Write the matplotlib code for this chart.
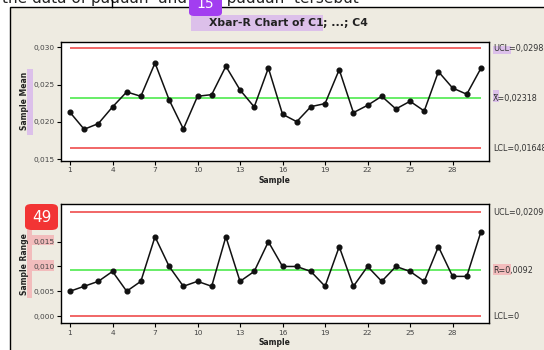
import matplotlib
matplotlib.use("Agg")
import matplotlib.pyplot as plt
from matplotlib.patches import Rectangle, FancyBboxPatch
from matplotlib.ticker import FuncFormatter
import matplotlib.transforms as mtransforms

# ---- data ----
samples = list(range(1, 31))
sample_means = [0.02129, 0.01902, 0.01978, 0.02201, 0.02402, 0.02344, 0.02790, 0.02295, 0.01906, 0.02344,
                0.02366, 0.02746, 0.02429, 0.02201, 0.02723, 0.02103, 0.02004, 0.02205, 0.02246, 0.02701,
                0.02125, 0.02223, 0.02344, 0.02174, 0.02277, 0.02147, 0.02674, 0.02455, 0.02371, 0.02719]
sample_ranges = [0.005, 0.006, 0.007, 0.009, 0.005, 0.007, 0.016, 0.010, 0.006, 0.007,
                 0.006, 0.016, 0.007, 0.009, 0.015, 0.010, 0.010, 0.009, 0.006, 0.014,
                 0.006, 0.010, 0.007, 0.010, 0.009, 0.007, 0.014, 0.008, 0.008, 0.017]
xbar_limits = {"UCL": 0.02988, "CL": 0.02318, "LCL": 0.01648}
r_limits = {"UCL": 0.02099, "CL": 0.0092, "LCL": 0.0}
x_ticks = [1, 4, 7, 10, 13, 16, 19, 22, 25, 28]

W, H = 544, 350
BEIGE = "#eeebe1"
RED = "#f05a5a"
GREEN = "#3ee83e"
PURPLE_HL = "#dcc0ea"
PINK_HL = "#f2bcbc"

fig = plt.figure(figsize=(W / 100, H / 100), dpi=100)
fig.patch.set_facecolor("white")


def fx(x):
    return x / W


def fy(y):
    return 1 - y / H


def box(x0, y0, x1, y1, color, z=-1):
    # rectangle given in pixel coords (top-left origin)
    fig.add_artist(Rectangle((fx(x0), fy(y1)), fx(x1) - fx(x0), fy(y0) - fy(y1),
                             transform=fig.transFigure, facecolor=color,
                             edgecolor="none", zorder=z))


# beige Minitab panel
fig.add_artist(Rectangle((fx(10), fy(H + 5)), fx(W + 10 - 10), fy(7) - fy(H + 5),
                         transform=fig.transFigure, facecolor=BEIGE,
                         edgecolor="black", lw=1.0, zorder=-2))
# cut-off text above the panel (only the bottoms of the glyphs show)
fig.text(fx(2), fy(3), "the data of paduan  and  the paduan  tersebut", fontsize=11,
         color="#222222", va="baseline", ha="left", zorder=1)
fig.add_artist(plt.Line2D([fx(112), fx(112)], [fy(0), fy(7)], transform=fig.transFigure,
                          color="black", lw=1.0))

# highlights
box(190.7, 15, 323.3, 31, PURPLE_HL)
box(26.7, 69.3, 33.3, 135, PURPLE_HL)
box(492.7, 45.7, 510.7, 54, PURPLE_HL)
box(492.7, 90, 499.3, 101.7, PURPLE_HL)
box(26.7, 230, 32.3, 297.7, PINK_HL)
box(32.3, 235, 54, 245, PINK_HL)
box(32.3, 260, 54, 271, PINK_HL)
box(492.7, 264.3, 510.7, 275, PINK_HL)

# title
fig.text(fx(323.3), fy(23.5), "Xbar-R Chart of C1", fontsize=7.8, fontweight="bold",
         ha="right", va="center", color="#222222", zorder=2)
fig.text(fx(323.3), fy(23.5), "; ...; C4", fontsize=7.8, fontweight="bold",
         ha="left", va="center", color="#222222", zorder=2)

comma_fmt = FuncFormatter(lambda v, p: f"{v:.3f}".replace(".", ","))


def control_panel(rect, values, limits, ylim, yticks, ylabel, labels):
    ax = fig.add_axes(rect)
    ax.set_facecolor("white")
    ax.hlines([limits["UCL"], limits["LCL"]], samples[0], samples[-1], color=RED, lw=1.3)
    ax.hlines(limits["CL"], samples[0], samples[-1], color=GREEN, lw=1.1)
    ax.plot(samples, values, "-o", color="#111111", lw=1.1, markersize=3.4, zorder=3)
    ax.set_xlim(0.33, 30.57)
    ax.set_ylim(*ylim)
    ax.set_xticks(x_ticks)
    ax.set_yticks(yticks)
    ax.yaxis.set_major_formatter(comma_fmt)
    ax.tick_params(labelsize=5.3, labelcolor="#444444", length=3, width=0.8,
                   direction="out", pad=1.5)
    for s in ax.spines.values():
        s.set_linewidth(1.0)
    ax.set_xlabel("Sample", fontsize=5.5, fontweight="bold", labelpad=2, color="#222222")
    ax.set_ylabel(ylabel, fontsize=5.5, fontweight="bold", labelpad=3, color="#222222")
    trans = mtransforms.blended_transform_factory(ax.transAxes, ax.transData)
    for key, txt in labels:
        ax.text(1.009, limits[key], txt, transform=trans, fontsize=5.8, color="#333333",
                ha="left", va="center", clip_on=False)
    return ax


top = control_panel([fx(60.5), fy(161), fx(489) - fx(60.5), fy(41.7) - fy(161)],
                    sample_means, xbar_limits, (0.01477, 0.03075),
                    [0.015, 0.020, 0.025, 0.030], "Sample Mean",
                    [("UCL", "UCL=0,02988"), ("CL", "X\u0304=0,02318"), ("LCL", "LCL=0,01648")])

bot = control_panel([fx(60.5), fy(323.3), fx(489) - fx(60.5), fy(204.3) - fy(323.3)],
                    sample_ranges, r_limits, (-0.00147, 0.02255),
                    [0.000, 0.005, 0.010, 0.015], "Sample Range",
                    [("UCL", "UCL=0,02099"), ("CL", "R\u0304=0,0092"), ("LCL", "LCL=0")])

# annotation badges
fig.add_artist(FancyBboxPatch((fx(189), fy(16)), fx(222) - fx(189), fy(-6) - fy(16),
                              boxstyle="round,pad=0,rounding_size=0.01",
                              transform=fig.transFigure, facecolor="#a23ef0",
                              edgecolor="none", zorder=5))
fig.text(fx(205.5), fy(4), "15", fontsize=10, color="white", ha="center", va="center", zorder=6)
fig.add_artist(FancyBboxPatch((fx(25), fy(230)), fx(58) - fx(25), fy(204) - fy(230),
                              boxstyle="round,pad=0,rounding_size=0.012",
                              transform=fig.transFigure, facecolor="#f23434",
                              edgecolor="none", zorder=5))
fig.text(fx(41.5), fy(217), "49", fontsize=11, color="white", ha="center", va="center", zorder=6)

fig.savefig("out.png", dpi=100)
